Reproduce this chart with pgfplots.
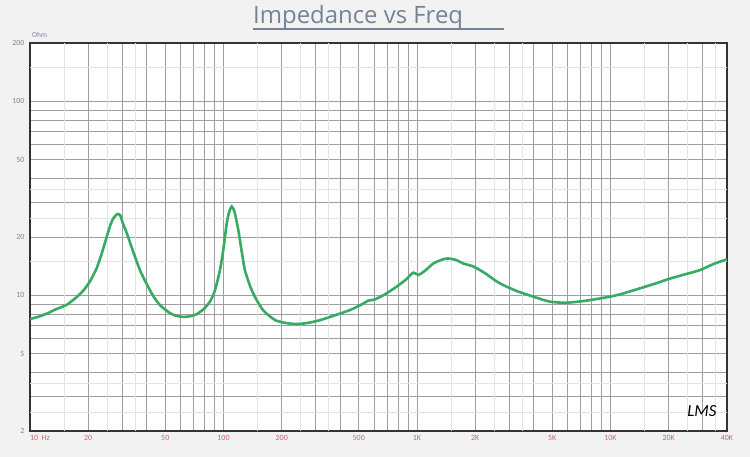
\documentclass[border=0pt]{standalone}
\usepackage{pgfplots}
\pgfplotsset{compat=1.18}
\usepackage{fontspec}
\setmainfont{Carlito}
\newfontfamily\titlefont{Open Sans}
\definecolor{bggray}{HTML}{F2F2F2}
\definecolor{curvegreen}{RGB}{55,170,100}
\definecolor{xlab}{RGB}{196,104,108}
\definecolor{ylab}{RGB}{122,136,160}
\definecolor{titlec}{RGB}{116,132,150}
\begin{document}
\begin{tikzpicture}[x=1bp,y=1bp]
\fill[bggray] (0,0) rectangle (750,457);
\begin{axis}[
  at={(30bp,26bp)}, anchor=south west,
  width=697bp, height=388bp, scale only axis,
  xmode=log, ymode=log,
  xmin=10, xmax=40000, ymin=2, ymax=200,
  axis background/.style={fill=white},
  axis line style={line width=2.2bp, draw=black!80},
  xtick={10,20,50,100,200,500,1000,2000,5000,10000,20000,40000},
  xticklabels={\makebox[0pt][l]{10\ \ Hz},20,50,100,200,500,1K,2K,5K,10K,20K,40K},
  minor xtick={30,40,60,70,80,90,300,400,600,700,800,900,3000,4000,6000,7000,8000,9000,30000},
  ytick={2,5,10,20,50,100,200},
  yticklabels={2,5,10,20,50,100,200},
  minor ytick={3,4,6,7,8,9,30,40,60,70,80,90},
  extra x ticks={15,25,35,150,250,350,1500,2500,3500,15000,25000,35000},
  extra x tick style={xticklabel=\empty, major grid style={draw=black!11, line width=0.7bp}},
  extra y ticks={2.5,3.5,15,25,35,150},
  extra y tick style={yticklabel=\empty, major grid style={draw=black!11, line width=0.7bp}},
  grid=both,
  major grid style={draw=black!38, line width=0.8bp},
  minor grid style={draw=black!38, line width=0.8bp},
  major tick length=0pt, minor tick length=0pt,
  xticklabel style={font=\fontsize{8}{9}\selectfont, text=xlab, yshift=-1bp},
  yticklabel style={font=\fontsize{8}{9}\selectfont, text=ylab, xshift=-2bp},
]
\addplot[curvegreen, line width=2.6bp, smooth, tension=0.4] coordinates {
(10,7.55) (11,7.75) (12.2,8.05) (13.5,8.45) (15.5,8.95) (17.2,9.7) (18.9,10.6)
(20.5,11.9) (22.1,13.8) (23.5,16.5) (24.9,20.0) (26,23.0) (27,25.0) (28.3,26.3)
(29.3,25.8) (30.2,23.5) (31.6,21.0) (34,17.0) (37,13.5) (40,11.5) (43.4,9.9)
(47,8.9) (52.9,8.1) (57,7.85) (62,7.75) (67,7.8) (72.6,8.0) (79,8.5) (85.2,9.3)
(90,10.5) (95.9,13.5) (100,17.5) (103.9,23.5) (107,27.0) (110.3,28.7) (114,27.0)
(119.3,21.7) (124,17.0) (129,13.5) (138,11.0) (148,9.5) (160,8.4) (175,7.75)
(188,7.4) (210,7.2) (239,7.12) (270,7.2) (315,7.45) (370,7.85) (450,8.4)
(520,9.0) (560,9.4) (600,9.5) (680,10.1) (786,11.1) (880,12.1) (957,13.1)
(1016,12.75) (1100,13.4) (1214,14.6) (1350,15.3) (1452,15.5) (1600,15.2)
(1735,14.6) (1953,14.1) (2250,13.0) (2581,11.8) (2900,11.1) (3342,10.45)
(3990,9.85) (4864,9.28) (5940,9.17) (7540,9.4) (9940,9.85) (11500,10.2)
(14190,10.87) (17000,11.5) (20280,12.2) (24000,12.8) (29000,13.5) (34000,14.5)
(40000,15.35)
};
\end{axis}
\node[anchor=base west, inner sep=0, text=titlec, font=\titlefont\fontsize{24}{27}\selectfont] at (253,433) {Impedance vs Freq};
\draw[titlec, line width=1.2bp] (253,428) -- (504,428);
\node[anchor=west, inner sep=0, text=ylab, font=\fontsize{7.5}{8}\selectfont] at (32,422) {Ohm};
\node[anchor=center, inner sep=0, font=\itshape\fontsize{17}{18}\selectfont] at (702,46) {LMS};
\end{tikzpicture}
\end{document}
